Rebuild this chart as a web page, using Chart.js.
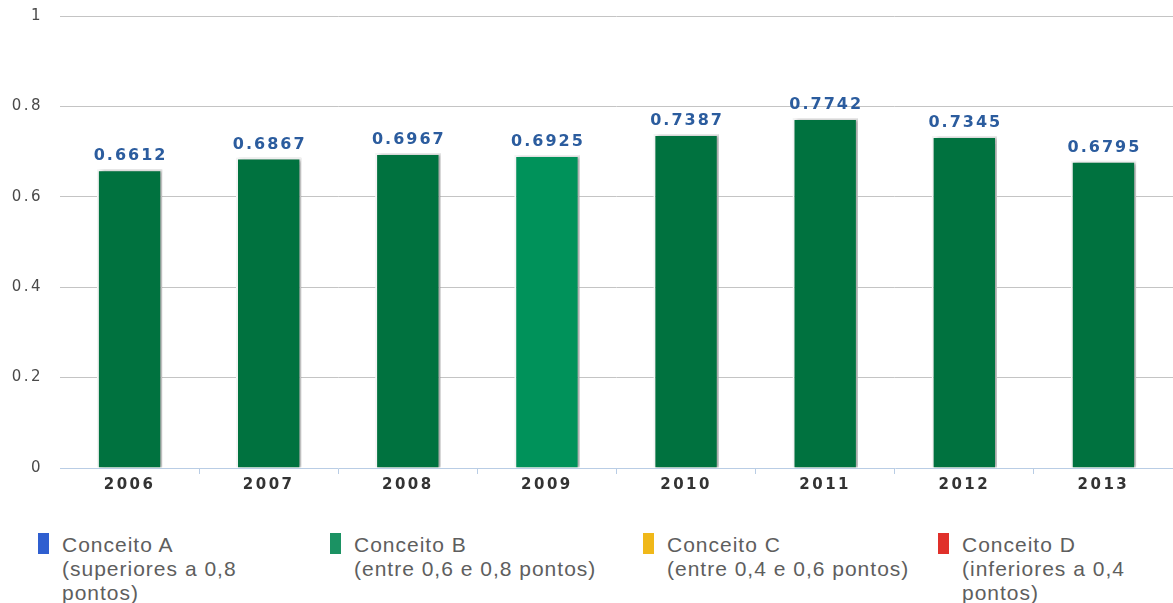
<!DOCTYPE html>
<html>
<head>
<meta charset="utf-8">
<script src="https://cdn.jsdelivr.net/npm/chart.js@4.4.0/dist/chart.umd.min.js"></script>
<style>
  body { margin: 0; background: #fff; width: 1173px; height: 603px; overflow: hidden; position: relative; font-family: "Liberation Sans", Arial, sans-serif; }
  #wrap { position: absolute; left: 0; top: 0; width: 1173px; height: 502px; }
  .item { position: absolute; top: 533px; }
  .mark { position: absolute; left: 0; top: 0; width: 11px; height: 21px; }
  .txt { position: absolute; left: 24px; top: 0; width: 300px; font-size: 21px; line-height: 24px; color: #5e5e5e; letter-spacing: 1px; white-space: nowrap; }
</style>
</head>
<body>
<div id="wrap"><canvas id="scoreChart"></canvas></div>
<div id="legend"></div>
<script>
// data
const years = ['2006', '2007', '2008', '2009', '2010', '2011', '2012', '2013'];
const scores = [0.6612, 0.6867, 0.6967, 0.6925, 0.7387, 0.7742, 0.7345, 0.6795];
const barColors = ['#00723f', '#00723f', '#00723f', '#00925a', '#00723f', '#00723f', '#00723f', '#00723f'];
const yTicks = [0, 0.2, 0.4, 0.6, 0.8, 1];

// legend text, one entry per line as wrapped in the picture
const legendLines = [
    ['Conceito A', '(superiores a 0,8', 'pontos)'],
    ['Conceito B', '(entre 0,6 e 0,8 pontos)'],
    ['Conceito C', '(entre 0,4 e 0,6 pontos)'],
    ['Conceito D', '(inferiores a 0,4', 'pontos)']
];
const legendColors = ['#2f5fd0', '#1b9263', '#f0b819', '#e0302a'];
const legendLeft = [38, 330, 643, 938];

// build the legend below the chart
const legend = document.getElementById('legend');
legendLines.forEach((lines, i) => {
    const item = document.createElement('div');
    item.className = 'item';
    item.style.left = legendLeft[i] + 'px';
    item.innerHTML = '<div class="mark" style="background:' + legendColors[i] + '"></div>' +
        '<div class="txt">' + lines.join('<br>') + '</div>';
    legend.appendChild(item);
});

// soft shadow on the right of each bar
const barShadow = {
    id: 'barShadow',
    beforeDatasetsDraw(chart) {
        const c = chart.ctx;
        c.save();
        c.shadowColor = 'rgba(0,0,0,0.3)';
        c.shadowOffsetX = 3;
        c.shadowOffsetY = 0;
        c.shadowBlur = 3;
    },
    afterDatasetsDraw(chart) {
        chart.ctx.restore();
    }
};

// value above each bar
const valueLabels = {
    id: 'valueLabels',
    afterDatasetsDraw(chart) {
        const c = chart.ctx;
        const meta = chart.getDatasetMeta(0);
        c.save();
        c.font = 'bold 16px "DejaVu Sans"';
        c.letterSpacing = '2px';
        c.fillStyle = '#2b5c9e';
        c.textAlign = 'center';
        c.textBaseline = 'alphabetic';
        meta.data.forEach((bar, i) => {
            c.fillText(scores[i].toFixed(4), bar.x + 1, bar.y - 9);
        });
        c.restore();
    }
};

// spaced-out axis text
const spacing = {
    id: 'spacing',
    beforeDraw(chart) {
        chart.ctx.letterSpacing = '2.5px';
    }
};

const ctx = document.getElementById('scoreChart').getContext('2d');

new Chart(ctx, {
    type: 'bar',
    data: {
        labels: years,
        datasets: [{
            data: scores,
            backgroundColor: barColors,
            borderColor: '#f4f4f4',
            borderWidth: 2,
            barPercentage: 0.47,
            categoryPercentage: 1
        }]
    },
    plugins: [spacing, barShadow, valueLabels],
    options: {
        responsive: true,
        maintainAspectRatio: false,
        animation: false,
        layout: { padding: { top: 16, right: 0, bottom: 6, left: 0 } },
        plugins: {
            legend: { display: false },
            tooltip: { enabled: false }
        },
        scales: {
            x: {
                grid: {
                    offset: true,
                    drawOnChartArea: false,
                    drawTicks: true,
                    tickLength: 6,
                    color: c => c.index === 0 ? 'transparent' : '#b9cde5'
                },
                border: { display: true, color: '#b9cde5', width: 1 },
                ticks: {
                    padding: 2,
                    color: '#333',
                    font: { family: '"DejaVu Sans"', size: 15, weight: 'bold' }
                }
            },
            y: {
                min: 0,
                max: 1,
                afterBuildTicks: scale => { scale.ticks = yTicks.map(v => ({ value: v })); },
                afterFit: scale => { scale.width = 60; },
                grid: {
                    drawTicks: true,
                    tickLength: 17,
                    tickColor: 'transparent',
                    color: c => c.tick && c.tick.value === 0 ? 'transparent' : '#c4c4c4'
                },
                border: { display: false },
                ticks: {
                    padding: 0,
                    color: '#4a4a4a',
                    font: { family: '"DejaVu Sans"', size: 15 },
                    callback: v => String(v)
                }
            }
        }
    }
});
</script>
</body>
</html>
